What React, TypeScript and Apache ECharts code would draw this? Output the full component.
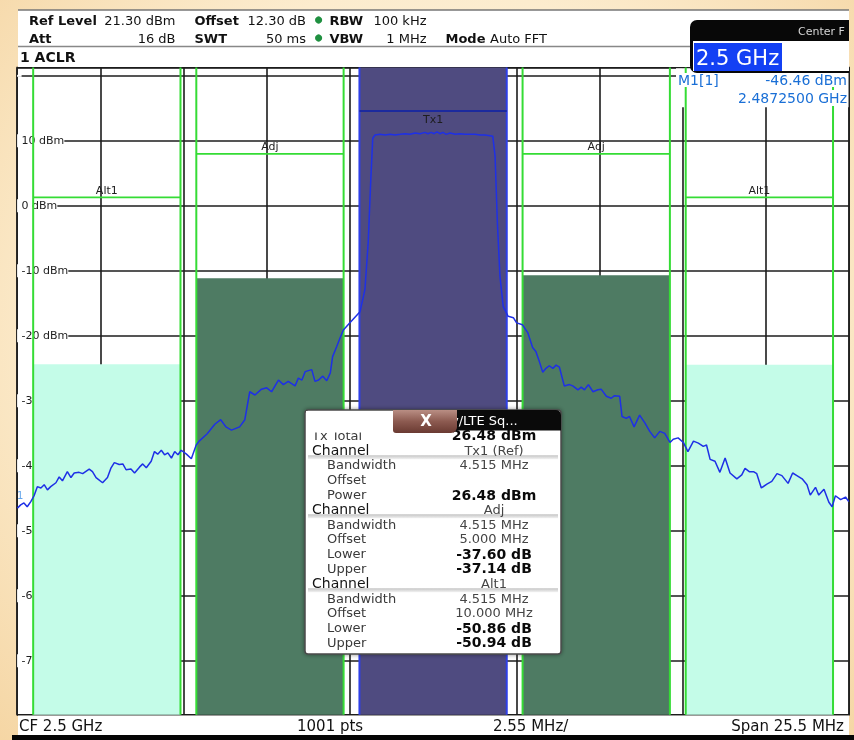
import React, { useEffect, useRef } from "react";
import * as echarts from "echarts";

const FONT = '"DejaVu Sans", Verdana, sans-serif';

// Analyzer settings
const spanMHz = 25.5;
const divisions = 10;
const refLevelDbm = 21.3;
const levelBottomDbm = -78.3;

// Sweep trace: [offset from 2.5 GHz in MHz, level in dBm]
const trace: [number, number][] = [
  [-12.74, -46.5], [-12.64, -46.0], [-12.54, -45.7], [-12.44, -46.3], [-12.33, -45.5], [-12.23, -44.6],
  [-12.13, -43.2], [-12.02, -43.4], [-11.92, -42.9], [-11.82, -43.7], [-11.72, -43.2], [-11.56, -42.6],
  [-11.46, -41.7], [-11.36, -42.3], [-11.21, -40.9], [-11.1, -41.8], [-11.0, -41.1], [-10.85, -41.0],
  [-10.74, -41.2], [-10.54, -40.5], [-10.44, -40.9], [-10.33, -41.8], [-10.13, -42.6], [-9.98, -41.8],
  [-9.87, -40.3], [-9.77, -39.5], [-9.62, -39.8], [-9.51, -39.7], [-9.41, -40.6], [-9.26, -40.5],
  [-9.15, -41.1], [-9.0, -40.2], [-8.9, -39.7], [-8.79, -40.3], [-8.64, -39.3], [-8.54, -37.8],
  [-8.44, -38.2], [-8.33, -37.6], [-8.23, -38.3], [-8.13, -38.0], [-8.02, -38.8], [-7.92, -37.8],
  [-7.82, -38.3], [-7.72, -37.6], [-7.56, -38.2], [-7.41, -38.9], [-7.26, -36.8], [-7.17, -36.2],
  [-6.93, -35.1], [-6.69, -33.6], [-6.51, -32.9], [-6.35, -34.0], [-6.18, -34.5], [-5.93, -34.0],
  [-5.77, -32.9], [-5.62, -28.6], [-5.46, -29.1], [-5.26, -28.2], [-5.1, -28.0], [-4.95, -28.6],
  [-4.74, -26.8], [-4.59, -27.5], [-4.44, -27.0], [-4.23, -27.7], [-4.13, -26.5], [-4.02, -26.8],
  [-3.92, -25.5], [-3.72, -25.2], [-3.62, -27.0], [-3.51, -26.8], [-3.38, -26.2], [-3.26, -26.9],
  [-3.15, -25.7], [-3.08, -23.2], [-2.95, -21.6], [-2.85, -20.3], [-2.75, -19.1], [-2.55, -18.0],
  [-2.24, -16.3], [-2.09, -12.9], [-1.99, -5.7], [-1.91, 4.0], [-1.85, 10.4], [-1.78, 10.9],
  [-1.63, 11.0], [-1.47, 10.9], [-1.32, 11.0], [-1.17, 10.9], [-1.01, 11.0], [-0.86, 11.1],
  [-0.71, 11.0], [-0.55, 11.2], [-0.4, 11.1], [-0.25, 11.3], [-0.16, 11.1], [-0.06, 11.3],
  [0.03, 11.1], [0.12, 11.4], [0.21, 11.1], [0.3, 11.3], [0.4, 11.0], [0.52, 11.2],
  [0.68, 11.0], [0.82, 11.1], [0.98, 11.0], [1.13, 11.0], [1.28, 11.0], [1.44, 10.9],
  [1.59, 10.9], [1.74, 10.8], [1.83, 10.7], [1.9, 7.6], [1.97, -2.6], [2.05, -10.9],
  [2.15, -15.5], [2.3, -17.0], [2.46, -17.2], [2.56, -18.0], [2.74, -18.3], [2.9, -19.5],
  [3.05, -21.8], [3.15, -22.4], [3.26, -24.0], [3.36, -25.6], [3.46, -25.0], [3.56, -24.6],
  [3.67, -25.0], [3.77, -24.5], [3.87, -24.8], [4.02, -27.7], [4.18, -27.5], [4.28, -27.7],
  [4.44, -28.3], [4.54, -27.9], [4.64, -28.3], [4.76, -27.5], [4.9, -28.6], [5.05, -28.3],
  [5.15, -28.2], [5.31, -29.3], [5.46, -29.6], [5.56, -29.2], [5.72, -29.3], [5.79, -32.4],
  [5.92, -32.7], [6.02, -32.4], [6.16, -34.0], [6.33, -32.2], [6.49, -33.4], [6.64, -34.7],
  [6.79, -35.7], [6.95, -34.7], [7.1, -35.0], [7.26, -36.4], [7.36, -35.9], [7.51, -35.7],
  [7.67, -36.4], [7.81, -37.8], [7.98, -36.2], [8.13, -36.5], [8.28, -37.0], [8.38, -36.8],
  [8.49, -39.0], [8.64, -39.3], [8.79, -41.0], [8.95, -38.8], [9.1, -41.1], [9.31, -42.0],
  [9.46, -41.4], [9.56, -40.4], [9.69, -40.9], [9.82, -40.9], [9.92, -41.2], [10.06, -43.4],
  [10.23, -42.8], [10.38, -42.4], [10.54, -41.2], [10.69, -41.5], [10.88, -42.7], [11.02, -41.1],
  [11.15, -41.5], [11.31, -42.0], [11.46, -42.9], [11.56, -44.5], [11.72, -43.3], [11.82, -44.5],
  [11.98, -43.6], [12.13, -45.6], [12.23, -46.3], [12.33, -44.6], [12.49, -45.2], [12.64, -44.8],
  [12.74, -45.5],
];

// ACLR channel definitions
const channelNames = ["Alt1", "Adj", "Tx1", "Adj", "Alt1"];
const channelOffsetsMHz = [-10, -5, 0, 5, 10];
const channelBandwidthMHz = 4.515;
const txPowerDbm = 26.48;
const channelRelDb = [-50.86, -37.6, 0, -37.14, -50.94];
const channelLimitDbm = [1.3, 8.0, 14.6, 8.0, 1.3];

// Marker 1
const markerOffsetMHz = -12.75;
const markerLevelDbm = -46.46;

// Result table
const tableLabels = [
  "Tx Total", "Channel", "Bandwidth", "Offset", "Power",
  "Channel", "Bandwidth", "Offset", "Lower", "Upper",
  "Channel", "Bandwidth", "Offset", "Lower", "Upper",
];
const tableValues = [
  "26.48 dBm", "Tx1 (Ref)", "4.515 MHz", "", "26.48 dBm",
  "Adj", "4.515 MHz", "5.000 MHz", "-37.60 dB", "-37.14 dB",
  "Alt1", "4.515 MHz", "10.000 MHz", "-50.86 dB", "-50.94 dB",
];
const boldRows = ["Tx Total", "Power", "Lower", "Upper"];

const channelPowerDbm = channelRelDb.map((r) => txPowerDbm + r);

function txt(text: string, x: number, y: number, o: any = {}) {
  return {
    type: "text",
    z: o.z ?? 12,
    silent: true,
    style: {
      text,
      x,
      y,
      fill: o.fill ?? "#111",
      fontSize: o.size ?? 13,
      fontWeight: o.bold ? "bold" : "normal",
      fontFamily: FONT,
      align: o.align ?? "left",
      textAlign: o.align ?? "left",
      verticalAlign: "middle",
      textVerticalAlign: "middle",
      lineHeight: o.lh,
      backgroundColor: o.bg,
      padding: o.pad,
    },
  };
}

function rect(x: number, y: number, w: number, h: number, style: any, z: number, r?: any) {
  return { type: "rect", z, silent: true, shape: { x, y, width: w, height: h, r: r ?? 0 }, style };
}

function buildGraphics() {
  const g: any[] = [];
  // status header
  g.push(rect(18, 9.5, 831, 57.5, { fill: "#fff" }, 10));
  g.push({ type: "line", z: 11, shape: { x1: 18, y1: 10, x2: 849, y2: 10 }, style: { stroke: "#333", lineWidth: 1.2 } });
  g.push({ type: "line", z: 11, shape: { x1: 18, y1: 46.5, x2: 849, y2: 46.5 }, style: { stroke: "#888", lineWidth: 1.5 } });
  const r1 = 20, r2 = 38;
  g.push(txt("Ref Level", 29, r1, { bold: true }));
  g.push(txt("21.30 dBm", 175.5, r1, { align: "right" }));
  g.push(txt("Offset", 194.5, r1, { bold: true }));
  g.push(txt("12.30 dB", 306, r1, { align: "right" }));
  g.push(txt("RBW", 329.5, r1, { bold: true }));
  g.push(txt("100 kHz", 426.5, r1, { align: "right" }));
  g.push(txt("Att", 29, r2, { bold: true }));
  g.push(txt("16 dB", 175.5, r2, { align: "right" }));
  g.push(txt("SWT", 194.5, r2, { bold: true }));
  g.push(txt("50 ms", 306, r2, { align: "right" }));
  g.push(txt("VBW", 329.5, r2, { bold: true }));
  g.push(txt("1 MHz", 426.5, r2, { align: "right" }));
  g.push(txt("Mode", 445.5, r2, { bold: true }));
  g.push(txt("Auto FFT", 490, r2));
  [r1, r2].forEach((y) =>
    g.push({ type: "circle", z: 12, silent: true, shape: { cx: 318.6, cy: y, r: 3.6 }, style: { fill: "#1f9040" } })
  );
  g.push(txt("1 ACLR", 20, 57, { bold: true, size: 14 }));

  // centre frequency entry box
  g.push(rect(690, 20, 159, 53, { fill: "#080808" }, 20, [7, 0, 0, 7]));
  g.push(txt("Center F", 798, 31, { fill: "#d6d6d6", size: 11, z: 21 }));
  g.push(rect(693, 41, 156, 30, { fill: "#fff" }, 21));
  g.push(rect(694, 43, 88, 28, { fill: "#1340f4" }, 22));
  g.push(txt("2.5 GHz", 696, 57.5, { fill: "#fff", size: 21, z: 23 }));

  // marker readout
  g.push(rect(676, 68.2, 172.5, 39, { fill: "#fff" }, 1));
  g.push(txt("M1[1]", 678, 80, { fill: "#1a6fd6", size: 14, z: 8, bg: "#fff" }));
  g.push(txt("-46.46 dBm", 847, 80, { fill: "#1a6fd6", size: 14, align: "right", z: 8, bg: "#fff" }));
  g.push(txt("2.4872500 GHz", 847, 98, { fill: "#1a6fd6", size: 14, align: "right", z: 8, bg: "#fff", pad: [1, 0, 1, 4] }));

  // footer
  g.push(rect(18, 715.5, 831, 19.5, { fill: "#fff" }, 10));
  g.push(rect(12, 735, 842, 5, { fill: "#050505" }, 10));
  g.push(txt("CF 2.5 GHz", 19, 726, { size: 15 }));
  g.push(txt("1001 pts", 297, 726, { size: 15 }));
  g.push(txt("2.55 MHz/", 493, 726, { size: 15 }));
  g.push(txt("Span 25.5 MHz", 844, 726, { size: 15, align: "right" }));

  // result table dialog
  g.push(rect(305, 410, 256, 244, { fill: "#fff", stroke: "#4a4a4a", lineWidth: 1.5, shadowBlur: 4, shadowColor: "rgba(0,0,0,0.45)" }, 30, 3));
  tableLabels.forEach((lab, i) => {
    const y = i === 0 ? 435 : 450.2 + (i - 1) * 14.78;
    const isChannel = lab === "Channel";
    const bold = boldRows.includes(lab);
    if (isChannel) {
      g.push(rect(308, y + 5, 250, 4, {
        fill: new echarts.graphic.LinearGradient(0, 0, 0, 1, [
          { offset: 0, color: "#c4c4c4" },
          { offset: 1, color: "#f2f2f2" },
        ]),
      }, 31));
    }
    g.push(txt(lab, isChannel || i === 0 ? 312 : 327, y, {
      fill: isChannel ? "#141414" : "#3a3a3a",
      size: isChannel ? 14 : 13,
      lh: 13,
      z: 32,
    }));
    if (tableValues[i]) {
      g.push(txt(tableValues[i], 494, y, {
        align: "center",
        bold,
        size: bold ? 14 : 13,
        fill: bold ? "#0a0a0a" : "#454545",
        lh: 13,
        z: 32,
      }));
    }
  });
  g.push(rect(306, 411, 88, 21.5, { fill: "#fff" }, 33));
  g.push(rect(452, 410, 109, 20.5, { fill: "#0a0a0a" }, 33, [0, 5, 0, 0]));
  g.push(txt("y/LTE Sq...", 451, 420.5, { fill: "#fff", size: 13, z: 34 }));
  g.push(rect(393, 410, 64, 23, {
    fill: new echarts.graphic.LinearGradient(0, 0, 0, 1, [
      { offset: 0, color: "#b98e84" },
      { offset: 0.5, color: "#8c5a50" },
      { offset: 1, color: "#6a3a32" },
    ]),
  }, 35, [0, 0, 6, 3]));
  g.push(txt("X", 426, 421, { fill: "#fff", size: 15, bold: true, align: "center", z: 36 }));
  return g;
}

const gridLine = { color: "#1c1c1c", width: 1.6 };

function buildOption() {
  const half = spanMHz / 2;
  const channelData = channelOffsetsMHz.map((c, i) => [
    c - channelBandwidthMHz / 2,
    c + channelBandwidthMHz / 2,
    channelPowerDbm[i],
    channelLimitDbm[i],
  ]);
  return {
    animation: false,
    grid: {
      left: 17.1, top: 67.4, width: 832, height: 647.4,
      show: true, backgroundColor: "#fff", borderColor: "#1c1c1c", borderWidth: 1.5,
    },
    xAxis: {
      type: "value", min: -half, max: half, interval: spanMHz / divisions,
      axisLabel: { show: false }, axisTick: { show: false }, axisLine: { show: false },
      splitLine: { show: true, lineStyle: gridLine },
    },
    yAxis: {
      type: "value", min: levelBottomDbm, max: refLevelDbm, splitNumber: 10,
      axisTick: { show: false }, axisLine: { show: false },
      splitLine: { show: true, lineStyle: gridLine },
      axisLabel: {
        inside: true, margin: 0, showMinLabel: false, showMaxLabel: false,
        formatter: (v: number) => (v > 15 ? "" : `${v} dBm`),
        color: "#1e1e1e", fontSize: 11, fontFamily: FONT,
        backgroundColor: "#fff", padding: [1, 0, 1, 4.5],
      },
    },
    series: [
      {
        type: "custom",
        z: 2,
        silent: true,
        data: channelData,
        encode: { x: [0, 1], y: [2, 3] },
        renderItem: (params: any, api: any) => {
          const i = params.dataIndex;
          const cs = params.coordSys;
          const left = api.coord([api.value(0), levelBottomDbm])[0];
          const right = api.coord([api.value(1), levelBottomDbm])[0];
          const bottom = cs.y + cs.height;
          const top = Math.max(cs.y, api.coord([api.value(0), api.value(2)])[1]);
          const limY = api.coord([api.value(0), api.value(3)])[1];
          const name = channelNames[i];
          const isTx = name === "Tx1";
          const fill = isTx ? "#4f4b80" : name === "Adj" ? "#4e7b63" : "#c4fce8";
          const edge = isTx ? "#2f40e8" : "#35dc35";
          return {
            type: "group",
            children: [
              { type: "rect", shape: { x: left, y: top, width: right - left, height: bottom - top }, style: { fill } },
              { type: "line", shape: { x1: left, y1: cs.y, x2: left, y2: bottom }, style: { stroke: edge, lineWidth: 2 } },
              { type: "line", shape: { x1: right, y1: cs.y, x2: right, y2: bottom }, style: { stroke: edge, lineWidth: 2 } },
              {
                type: "line",
                shape: { x1: left, y1: limY, x2: right, y2: limY },
                style: { stroke: isTx ? "#1c2a9e" : "#35dc35", lineWidth: isTx ? 2 : 1.6 },
              },
              {
                type: "text",
                style: {
                  text: name, x: (left + right) / 2, y: isTx ? limY + 9 : limY - 7,
                  align: "center", verticalAlign: "middle", textAlign: "center", textVerticalAlign: "middle",
                  fontSize: 11, fontFamily: FONT, fill: "#1e1e1e",
                },
              },
            ],
          };
        },
      },
      {
        type: "line",
        z: 4,
        silent: true,
        data: trace,
        symbol: "none",
        lineStyle: { color: "#1e30e6", width: 1.5 },
      },
      {
        type: "scatter",
        z: 5,
        silent: true,
        data: [[markerOffsetMHz, markerLevelDbm]],
        symbol: "circle",
        symbolSize: 1,
        itemStyle: { color: "rgba(0,0,0,0)" },
        label: {
          show: true, formatter: "1", position: "top", offset: [3, -2],
          color: "#3d8fe6", fontSize: 10, fontFamily: FONT,
        },
      },
    ],
    graphic: { elements: buildGraphics() },
  };
}

export default function App() {
  const ref = useRef<HTMLDivElement>(null);
  useEffect(() => {
    if (!ref.current) return;
    const chart = echarts.init(ref.current, undefined, { renderer: "svg" });
    chart.setOption(buildOption() as any);
    return () => chart.dispose();
  }, []);
  return (
    <div
      style={{
        position: "fixed",
        left: 0,
        top: 0,
        width: 854,
        height: 740,
        background: "radial-gradient(ellipse at 50% 45%, #fff7e4 0%, #fcecce 60%, #f5d6a4 100%)",
      }}
    >
      <div ref={ref} style={{ width: 854, height: 740 }} />
    </div>
  );
}
